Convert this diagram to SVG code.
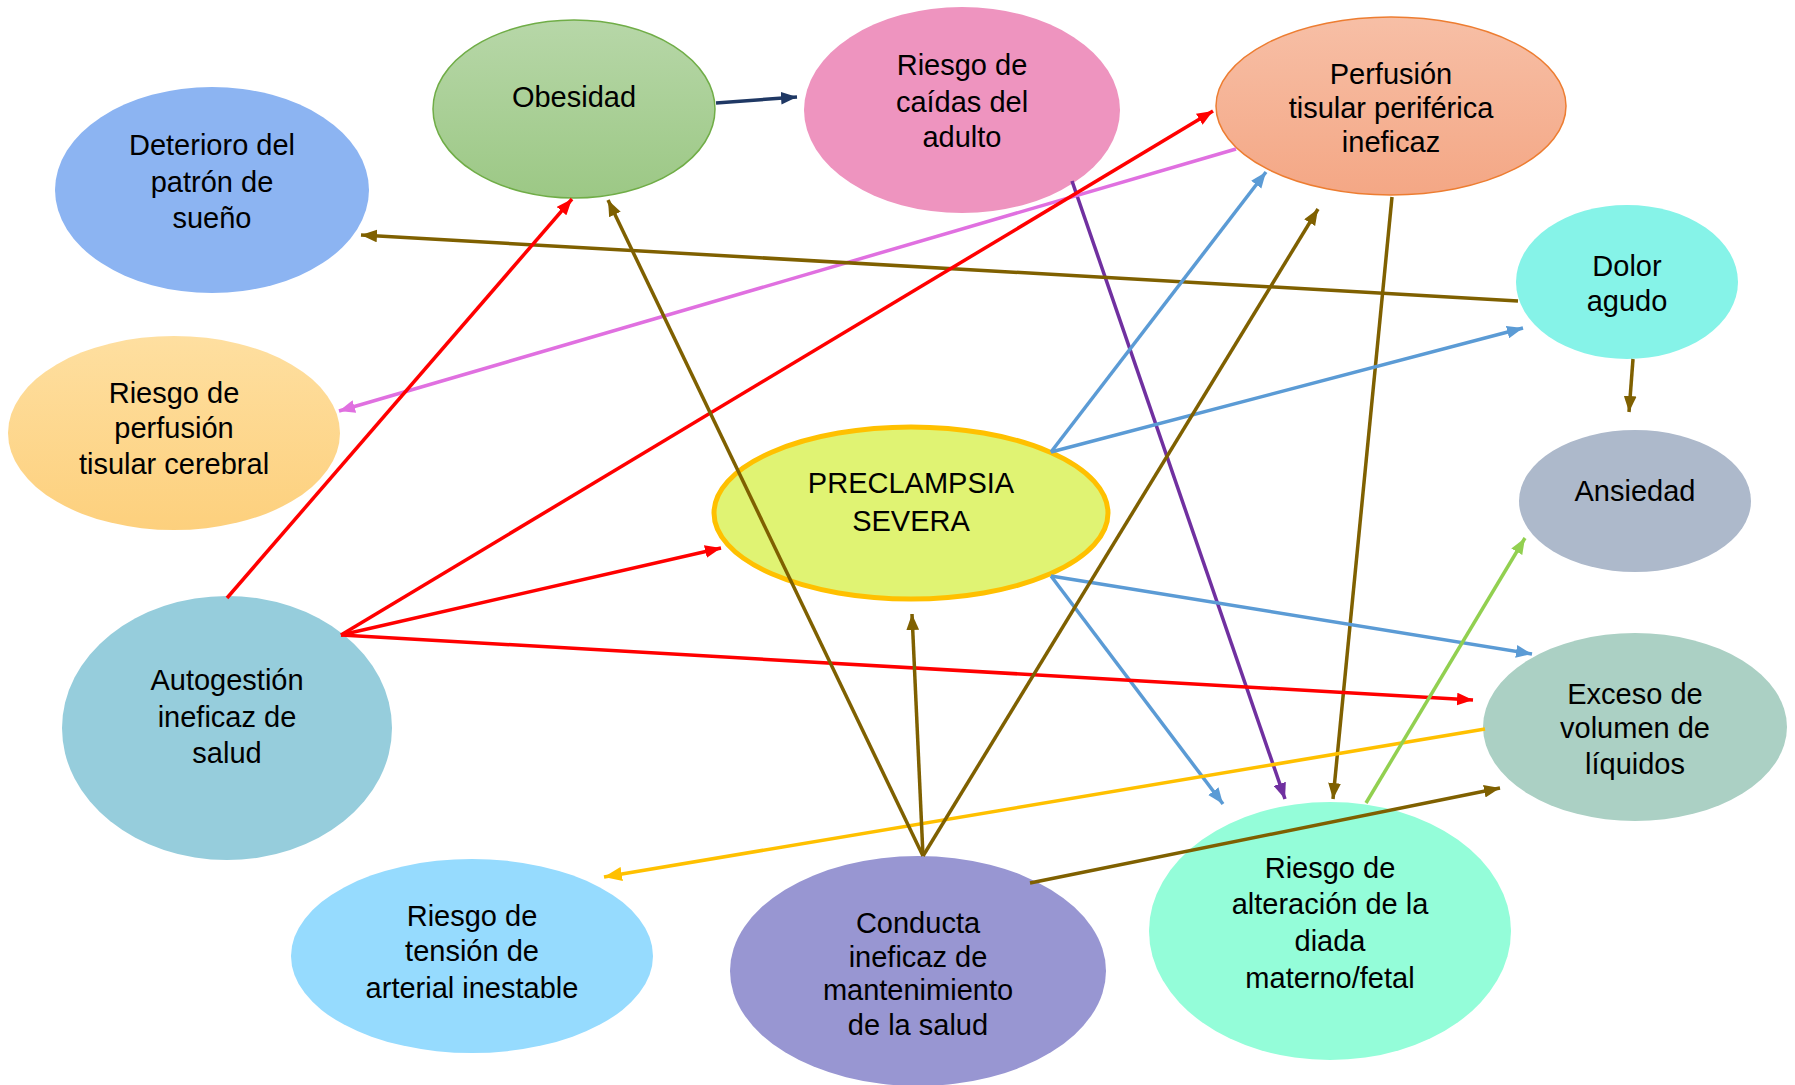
<svg xmlns="http://www.w3.org/2000/svg" width="1795" height="1085" viewBox="0 0 1795 1085">
<style>
text{font-family:"Liberation Sans",Arial,sans-serif;font-size:29px;fill:#000;text-anchor:middle}
.c{fill:none;stroke-width:3.5}
</style>
<defs>
<linearGradient id="gObe" x1="0" y1="0" x2="0" y2="1"><stop offset="0" stop-color="#b7d7a8"/><stop offset="1" stop-color="#9cc885"/></linearGradient>
<linearGradient id="gPer" x1="0" y1="0" x2="0" y2="1"><stop offset="0" stop-color="#f7bfa6"/><stop offset="1" stop-color="#f4a785"/></linearGradient>
<linearGradient id="gCer" x1="0" y1="0" x2="0" y2="1"><stop offset="0" stop-color="#fedfa0"/><stop offset="1" stop-color="#fdd07d"/></linearGradient>
<marker id="mNavy" viewBox="0 0 10 8" refX="10" refY="4" markerWidth="16" markerHeight="13" markerUnits="userSpaceOnUse" orient="auto"><path d="M0,0 L10,4 L0,8 z" fill="#1f3864"/></marker>
<marker id="mRed" viewBox="0 0 10 8" refX="10" refY="4" markerWidth="16" markerHeight="13" markerUnits="userSpaceOnUse" orient="auto"><path d="M0,0 L10,4 L0,8 z" fill="#ff0000"/></marker>
<marker id="mBrown" viewBox="0 0 10 8" refX="10" refY="4" markerWidth="16" markerHeight="13" markerUnits="userSpaceOnUse" orient="auto"><path d="M0,0 L10,4 L0,8 z" fill="#7f6000"/></marker>
<marker id="mBlue" viewBox="0 0 10 8" refX="10" refY="4" markerWidth="16" markerHeight="13" markerUnits="userSpaceOnUse" orient="auto"><path d="M0,0 L10,4 L0,8 z" fill="#5b9bd5"/></marker>
<marker id="mPurple" viewBox="0 0 10 8" refX="10" refY="4" markerWidth="16" markerHeight="13" markerUnits="userSpaceOnUse" orient="auto"><path d="M0,0 L10,4 L0,8 z" fill="#7030a0"/></marker>
<marker id="mPink" viewBox="0 0 10 8" refX="10" refY="4" markerWidth="16" markerHeight="13" markerUnits="userSpaceOnUse" orient="auto"><path d="M0,0 L10,4 L0,8 z" fill="#e070e0"/></marker>
<marker id="mYellow" viewBox="0 0 10 8" refX="10" refY="4" markerWidth="18" markerHeight="15" markerUnits="userSpaceOnUse" orient="auto"><path d="M0,0 L10,4 L0,8 z" fill="#ffc000"/></marker>
<marker id="mGreen" viewBox="0 0 10 8" refX="10" refY="4" markerWidth="16" markerHeight="13" markerUnits="userSpaceOnUse" orient="auto"><path d="M0,0 L10,4 L0,8 z" fill="#92d050"/></marker>
</defs>
<rect width="1795" height="1085" fill="#ffffff"/>

<g id="n-obesidad"><ellipse cx="574" cy="109" rx="141" ry="89" fill="url(#gObe)" stroke="#70ad47" stroke-width="1.5"/><text x="574" y="107">Obesidad</text></g>
<g id="n-caidas"><ellipse cx="962" cy="110" rx="158" ry="103" fill="#ee94bf"/><text x="962" y="75">Riesgo de</text><text x="962" y="112">caídas del</text><text x="962" y="147">adulto</text></g>
<g id="n-perfusion"><ellipse cx="1391" cy="106" rx="175" ry="89" fill="url(#gPer)" stroke="#ed7d31" stroke-width="1.5"/><text x="1391" y="84">Perfusión</text><text x="1391" y="118">tisular periférica</text><text x="1391" y="152">ineficaz</text></g>
<g id="n-sueno"><ellipse cx="212" cy="190" rx="157" ry="103" fill="#8cb4f2"/><text x="212" y="155">Deterioro del</text><text x="212" y="192">patrón de</text><text x="212" y="228">sueño</text></g>
<g id="n-dolor"><ellipse cx="1627" cy="282" rx="111" ry="77" fill="#86f3e8"/><text x="1627" y="276">Dolor</text><text x="1627" y="311">agudo</text></g>
<g id="n-cerebral"><ellipse cx="174" cy="433" rx="166" ry="97" fill="url(#gCer)"/><text x="174" y="403">Riesgo de</text><text x="174" y="438">perfusión</text><text x="174" y="474">tisular cerebral</text></g>
<g id="n-ansiedad"><ellipse cx="1635" cy="501" rx="116" ry="71" fill="#adb9cb"/><text x="1635" y="501">Ansiedad</text></g>
<g id="n-preclampsia"><ellipse cx="911" cy="513" rx="197" ry="86" fill="#e0f373" stroke="#ffc000" stroke-width="5"/><text x="911" y="493">PRECLAMPSIA</text><text x="911" y="531">SEVERA</text></g>
<g id="n-autogestion"><ellipse cx="227" cy="728" rx="165" ry="132" fill="#96cddc"/><text x="227" y="690">Autogestión</text><text x="227" y="727">ineficaz de</text><text x="227" y="763">salud</text></g>
<g id="n-exceso"><ellipse cx="1635" cy="727" rx="152" ry="94" fill="#abd0c4"/><text x="1635" y="704">Exceso de</text><text x="1635" y="738">volumen de</text><text x="1635" y="774">líquidos</text></g>
<g id="n-tension"><ellipse cx="472" cy="956" rx="181" ry="97" fill="#96dbfe"/><text x="472" y="926">Riesgo de</text><text x="472" y="961">tensión de</text><text x="472" y="998">arterial inestable</text></g>
<g id="n-conducta"><ellipse cx="918" cy="971" rx="188" ry="115" fill="#9896d2"/><text x="918" y="933">Conducta</text><text x="918" y="967">ineficaz de</text><text x="918" y="1000">mantenimiento</text><text x="918" y="1035">de la salud</text></g>
<g id="n-diada"><ellipse cx="1330" cy="931" rx="181" ry="129" fill="#94fdd9"/><text x="1330" y="878">Riesgo de</text><text x="1330" y="914">alteración de la</text><text x="1330" y="951">diada</text><text x="1330" y="988">materno/fetal</text></g>

<g id="connectors">
<line class="c" x1="716" y1="103" x2="797" y2="97" stroke="#1f3864" stroke-width="4" marker-end="url(#mNavy)"/>
<line class="c" x1="1072" y1="181" x2="1285" y2="799" stroke="#7030a0" marker-end="url(#mPurple)"/>
<line class="c" x1="1236" y1="149" x2="339" y2="411" stroke="#e070e0" marker-end="url(#mPink)"/>
<line class="c" x1="1392" y1="197" x2="1333" y2="799" stroke="#7f6000" marker-end="url(#mBrown)"/>
<line class="c" x1="1518" y1="301" x2="361" y2="235" stroke="#7f6000" marker-end="url(#mBrown)"/>
<line class="c" x1="1633" y1="359" x2="1629" y2="412" stroke="#7f6000" marker-end="url(#mBrown)"/>
<line class="c" x1="1051" y1="452" x2="1266" y2="172" stroke="#5b9bd5" marker-end="url(#mBlue)"/>
<line class="c" x1="1051" y1="452" x2="1523" y2="328" stroke="#5b9bd5" marker-end="url(#mBlue)"/>
<line class="c" x1="1051" y1="576" x2="1532" y2="654" stroke="#5b9bd5" marker-end="url(#mBlue)"/>
<line class="c" x1="1051" y1="576" x2="1223" y2="804" stroke="#5b9bd5" marker-end="url(#mBlue)"/>
<line class="c" x1="227" y1="598" x2="572" y2="199" stroke="#ff0000" marker-end="url(#mRed)"/>
<line class="c" x1="341" y1="635" x2="1213" y2="111" stroke="#ff0000" marker-end="url(#mRed)"/>
<line class="c" x1="341" y1="635" x2="721" y2="548" stroke="#ff0000" marker-end="url(#mRed)"/>
<line class="c" x1="341" y1="635" x2="1473" y2="700" stroke="#ff0000" marker-end="url(#mRed)"/>
<line class="c" x1="1485" y1="729" x2="604" y2="877" stroke="#ffc000" stroke-width="5.5" marker-end="url(#mYellow)"/>
<line class="c" x1="1366" y1="803" x2="1525" y2="538" stroke="#92d050" marker-end="url(#mGreen)"/>
<line class="c" x1="923" y1="856" x2="608" y2="200" stroke="#7f6000" marker-end="url(#mBrown)"/>
<line class="c" x1="923" y1="856" x2="912" y2="614" stroke="#7f6000" marker-end="url(#mBrown)"/>
<line class="c" x1="923" y1="856" x2="1318" y2="209" stroke="#7f6000" marker-end="url(#mBrown)"/>
<line class="c" x1="1030" y1="883" x2="1500" y2="788" stroke="#7f6000" marker-end="url(#mBrown)"/>
</g>
</svg>
